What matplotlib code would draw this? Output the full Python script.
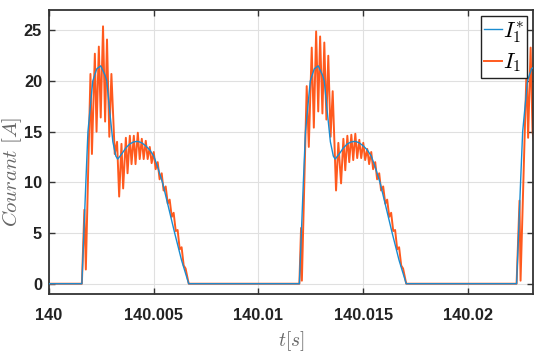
import numpy as np
import matplotlib.pyplot as plt

# pulse start times (s)
pulse_starts = [140.001571, 140.011952, 140.022319]

# reference current I1* : one pulse shape, time from pulse start (ms)
ref_t = [0, 0.19, 0.29, 0.52, 0.71, 0.90, 1.10, 1.19, 1.33, 1.48, 1.62, 1.71, 1.90,
         2.10, 2.29, 2.48, 2.67, 2.86, 3.05, 3.24, 3.43, 3.62, 3.86, 4.14, 4.43, 4.76, 5.10]
ref_i = [0, 10, 15, 20, 21.2, 21.5, 20.6, 20, 17, 14, 12.6, 12.3, 12.8,
         13.4, 13.8, 14.0, 14.05, 13.9, 13.6, 13.2, 12.6, 11.5, 9.9, 7.5, 5.0, 2.3, 0]

# measured current I1, vertices for each pulse (ms from pulse start)
decay_t = [3.43, 3.52, 3.62, 3.71, 3.81, 3.90, 4.00, 4.10, 4.19, 4.29, 4.38,
           4.48, 4.57, 4.67, 4.76, 4.86, 4.95, 5.05, 5.10]
decay_i = [13.0, 11.3, 12.0, 10.3, 10.9, 9.2, 9.6, 7.9, 8.3, 6.6, 7.0,
           5.2, 5.3, 3.4, 3.6, 1.8, 1.5, 0.5, 0]

p1_t = [0, 0.12, 0.19, 0.41, 0.48, 0.62, 0.70, 0.81, 0.90, 1.01, 1.11, 1.20, 1.31, 1.41,
        1.57, 1.68, 1.78, 1.89, 1.97, 2.10, 2.18, 2.29, 2.37, 2.48, 2.56, 2.67, 2.76,
        2.86, 2.95, 3.05, 3.14, 3.24, 3.33] + decay_t
p1_i = [0, 7.3, 1.4, 20.7, 12.8, 22.7, 15.0, 23.4, 16.4, 25.4, 16.0, 24.1, 14.5, 20.7,
        12.8, 14.0, 8.6, 13.8, 9.4, 14.4, 10.9, 14.6, 11.8, 14.6, 11.8, 14.9, 12.3,
        14.3, 12.3, 14.1, 12.3, 13.5, 11.9] + decay_i

p2_t = [0, 0.08, 0.12, 0.35, 0.45, 0.59, 0.69, 0.80, 0.90, 0.99, 1.10, 1.19, 1.29, 1.38,
        1.49, 1.59, 1.75, 1.86, 1.99, 2.10, 2.19, 2.29, 2.38, 2.48, 2.57, 2.67, 2.76,
        2.86, 2.95, 3.05, 3.14, 3.24, 3.33] + decay_t
p2_i = [0, 5.5, 0.3, 19.5, 13.5, 23.3, 15.4, 24.9, 17.0, 24.4, 16.8, 23.8, 16.2, 22.5,
        14.5, 19.0, 9.2, 13.9, 9.9, 14.3, 11.2, 14.6, 12.0, 14.7, 12.2, 14.8, 12.4,
        14.2, 12.4, 13.9, 12.2, 13.3, 11.8] + decay_i

p3_t = [0, 0.14, 0.19, 0.48, 0.55, 0.67, 0.76]
p3_i = [0, 8.2, 0.3, 21.5, 14.4, 23.3, 15.0]

t_start, t_end = 140.0, 140.0231


def build(shapes):
    t = [t_start]
    y = [0.0]
    for t0, (st, si) in zip(pulse_starts, shapes):
        t += [t0 + v / 1000 for v in st]
        y += list(si)
    t.append(t_end + 0.001)
    y.append(0.0)
    return np.array(t), np.array(y)


tr, ir = build([(ref_t, ref_i)] * 3)
tm, im = build([(p1_t, p1_i), (p2_t, p2_i), (p3_t, p3_i)])

plt.rcParams['mathtext.fontset'] = 'cm'
fig = plt.figure(figsize=(5.5, 3.61), dpi=100)
ax = fig.add_axes([0.089, 0.186, 0.88, 0.786])

l2, = ax.plot(tm, im, color='#FF5A1E', lw=1.4, zorder=2)
l1, = ax.plot(tr, ir, color='#1A8CD0', lw=1.0, zorder=3)

ax.set_xlim(t_start, t_end)
ax.set_ylim(-1, 27)
xt = [140, 140.005, 140.01, 140.015, 140.02]
ax.set_xticks(xt)
ax.set_xticklabels(['140', '140.005', '140.01', '140.015', '140.02'])
ax.set_yticks([0, 5, 10, 15, 20, 25])
ax.grid(True, color='#e0e0e0', lw=0.8)
ax.set_axisbelow(True)
ax.tick_params(direction='in', length=4, width=1, top=True, right=True,
               color='#333333', labelsize=11.8)
ax.tick_params(axis='x', pad=10)
ax.tick_params(axis='y', pad=5)
for lab in ax.get_xticklabels() + ax.get_yticklabels():
    lab.set_family('Liberation Sans')
    lab.set_fontweight('bold')
    lab.set_color('#222222')
for s in ax.spines.values():
    s.set_color('#333333')
    s.set_linewidth(1.3)

ax.set_ylabel(r'$Courant\ [A]$', fontsize=15, color='#666666')
ax.yaxis.set_label_coords(-0.052, 0.43)
ax.set_xlabel(r'$t[s]$', fontsize=14, color='#666666')
ax.xaxis.set_label_coords(0.5, -0.125)

leg = ax.legend([l1, l2], [r'$I_1^{*}$', r'$I_1$'], loc='upper right',
                fontsize=16, handlelength=0.8, handletextpad=0.05,
                borderpad=0.15, labelspacing=0.3, borderaxespad=0.25,
                fancybox=False, framealpha=1, edgecolor='#222222')
leg.get_frame().set_linewidth(1.0)

fig.savefig('out.png', dpi=100)
